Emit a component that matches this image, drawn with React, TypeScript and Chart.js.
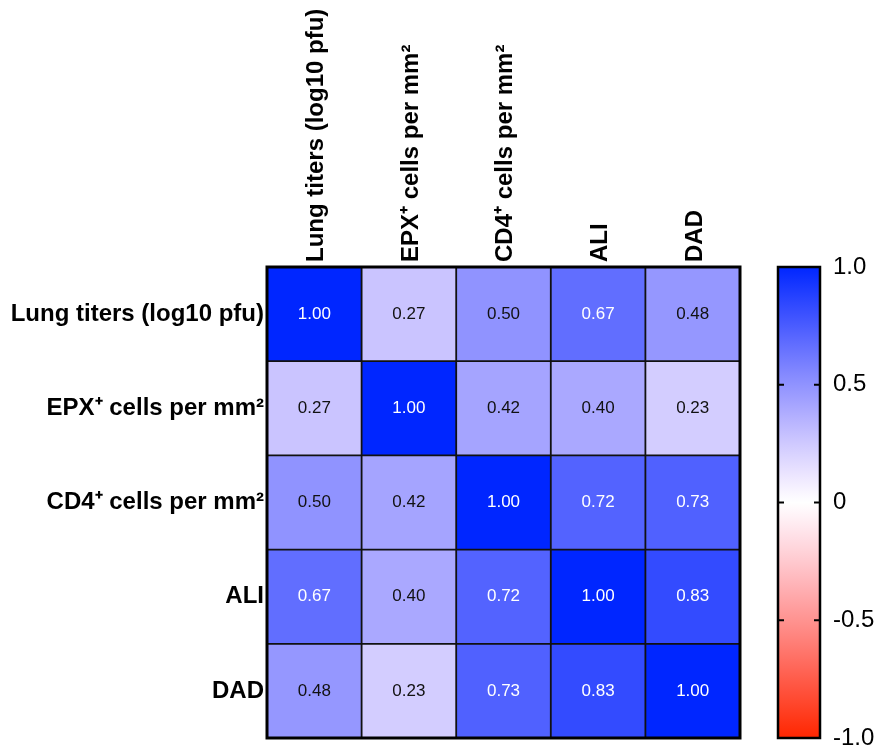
import React, { useEffect, useRef } from 'react';
import { Chart, registerables } from 'chart.js';

Chart.register(...registerables);

const variables = [
  'Lung titers (log10 pfu)',
  'EPX⁺ cells per mm²',
  'CD4⁺ cells per mm²',
  'ALI',
  'DAD',
];

const rowLungTiters = [1.0, 0.27, 0.5, 0.67, 0.48];
const rowEPX = [0.27, 1.0, 0.42, 0.4, 0.23];
const rowCD4 = [0.5, 0.42, 1.0, 0.72, 0.73];
const rowALI = [0.67, 0.4, 0.72, 1.0, 0.83];
const rowDAD = [0.48, 0.23, 0.73, 0.83, 1.0];

const matrixRows = [rowLungTiters, rowEPX, rowCD4, rowALI, rowDAD];

const colorbarTicks = [-1, -0.5, 0, 0.5, 1];
const colorbarLabels = ['-1.0', '-0.5', '0', '0.5', '1.0'];

const FONT = '"Liberation Sans", Arial, Helvetica, sans-serif';

function colorFor(v: number): string {
  const t = Math.min(1, Math.abs(v));
  const strong = Math.round(255 * (1 - Math.pow(t, 1.2)));
  const mid = Math.round(255 - 217 * t);
  if (v >= 0) return `rgb(${strong},${mid},255)`;
  return `rgb(255,${mid},${strong})`;
}

const heatCellsPlugin = {
  id: 'heatCells',
  beforeDatasetsDraw(chart: any) {
    const { ctx, chartArea, scales } = chart;
    const xs = scales.x;
    const ys = scales.y;
    const cw = Math.abs(xs.getPixelForValue(1) - xs.getPixelForValue(0));
    const chh = Math.abs(ys.getPixelForValue(1) - ys.getPixelForValue(0));
    const meta = chart.getDatasetMeta(0);
    const data = chart.data.datasets[0].data as any[];
    ctx.save();
    meta.data.forEach((el: any, i: number) => {
      const v = data[i].v;
      ctx.fillStyle = colorFor(v);
      ctx.fillRect(el.x - cw / 2, el.y - chh / 2, cw, chh);
    });
    ctx.strokeStyle = '#111';
    ctx.lineWidth = 1.8;
    for (let k = 1; k < variables.length; k++) {
      const px = (xs.getPixelForValue(k - 1) + xs.getPixelForValue(k)) / 2;
      ctx.beginPath();
      ctx.moveTo(px, chartArea.top);
      ctx.lineTo(px, chartArea.bottom);
      ctx.stroke();
      const py = (ys.getPixelForValue(k - 1) + ys.getPixelForValue(k)) / 2;
      ctx.beginPath();
      ctx.moveTo(chartArea.left, py);
      ctx.lineTo(chartArea.right, py);
      ctx.stroke();
    }
    ctx.strokeStyle = '#000';
    ctx.lineWidth = 3;
    ctx.strokeRect(chartArea.left, chartArea.top, chartArea.right - chartArea.left, chartArea.bottom - chartArea.top);
    ctx.font = `17px ${FONT}`;
    ctx.textAlign = 'center';
    ctx.textBaseline = 'middle';
    meta.data.forEach((el: any, i: number) => {
      const v = data[i].v;
      ctx.fillStyle = v > 0.6 ? '#ffffff' : '#111111';
      ctx.fillText(v.toFixed(2), el.x, el.y);
    });
    ctx.restore();
  },
};

const colorbarPlugin = {
  id: 'colorbar',
  afterDraw(chart: any) {
    const { ctx, chartArea, scales } = chart;
    const cs = scales.c;
    const top = cs.getPixelForValue(1);
    const bottom = cs.getPixelForValue(-1);
    const left = chartArea.right + 38;
    const width = 42;
    const grad = ctx.createLinearGradient(0, top, 0, bottom);
    const steps = 40;
    for (let s = 0; s <= steps; s++) {
      const v = 1 - (2 * s) / steps;
      grad.addColorStop(s / steps, colorFor(v));
    }
    ctx.save();
    ctx.fillStyle = grad;
    ctx.fillRect(left, top, width, bottom - top);
    ctx.strokeStyle = '#000';
    ctx.lineWidth = 2.5;
    ctx.strokeRect(left, top, width, bottom - top);
    ctx.lineWidth = 2;
    colorbarTicks.forEach((v) => {
      if (v === 1 || v === -1) return;
      const py = cs.getPixelForValue(v);
      ctx.beginPath();
      ctx.moveTo(left, py);
      ctx.lineTo(left + 6, py);
      ctx.moveTo(left + width - 6, py);
      ctx.lineTo(left + width, py);
      ctx.stroke();
    });
    ctx.restore();
  },
};

export default function App() {
  const canvasRef = useRef<HTMLCanvasElement | null>(null);

  useEffect(() => {
    if (!canvasRef.current) return;
    const points: any[] = [];
    matrixRows.forEach((row, i) => {
      row.forEach((v, j) => {
        points.push({ x: variables[j], y: variables[i], v });
      });
    });

    const chart = new Chart(canvasRef.current, {
      type: 'scatter',
      data: {
        datasets: [
          {
            data: points,
            pointRadius: 0,
            pointHoverRadius: 0,
          },
        ],
      },
      options: {
        animation: false,
        responsive: true,
        maintainAspectRatio: false,
        events: [],
        layout: { padding: { left: 0, top: 0, right: 0, bottom: 12 } },
        plugins: {
          legend: { display: false },
          tooltip: { enabled: false },
        },
        scales: {
          x: {
            type: 'category',
            labels: variables,
            position: 'top',
            offset: true,
            grid: { display: false, drawTicks: false },
            border: { display: false },
            ticks: {
              autoSkip: false,
              minRotation: 90,
              maxRotation: 90,
              padding: 5,
              labelOffset: 31,
              color: '#000',
              font: { family: FONT, size: 24, weight: 'bold' },
            },
            afterFit: (s: any) => {
              s.height = 267;
              s.paddingLeft = 0;
              s.paddingRight = 0;
            },
          },
          y: {
            type: 'category',
            labels: variables,
            position: 'left',
            offset: true,
            grid: { display: false, drawTicks: false },
            border: { display: false },
            ticks: {
              autoSkip: false,
              padding: 3,
              color: '#000',
              font: { family: FONT, size: 24, weight: 'bold' },
            },
            afterFit: (s: any) => {
              s.width = 267;
              s.paddingTop = 0;
              s.paddingBottom = 0;
            },
          },
          c: {
            type: 'linear',
            position: 'right',
            min: -1,
            max: 1,
            grid: { display: false, drawTicks: false },
            border: { display: false },
            afterBuildTicks: (s: any) => {
              s.ticks = colorbarTicks.map((v) => ({ value: v }));
            },
            ticks: {
              padding: 93,
              color: '#000',
              font: { family: FONT, size: 24 },
              callback: (v: any) => colorbarLabels[colorbarTicks.indexOf(Number(v))] ?? '',
            },
            afterFit: (s: any) => {
              s.width = 138;
              s.paddingTop = 0;
              s.paddingBottom = 0;
            },
          },
        },
      } as any,
      plugins: [heatCellsPlugin, colorbarPlugin],
    });
    return () => chart.destroy();
  }, []);

  return (
    <div style={{ position: 'fixed', left: 0, top: 0, width: 878, height: 750 }}>
      <canvas ref={canvasRef} />
    </div>
  );
}
